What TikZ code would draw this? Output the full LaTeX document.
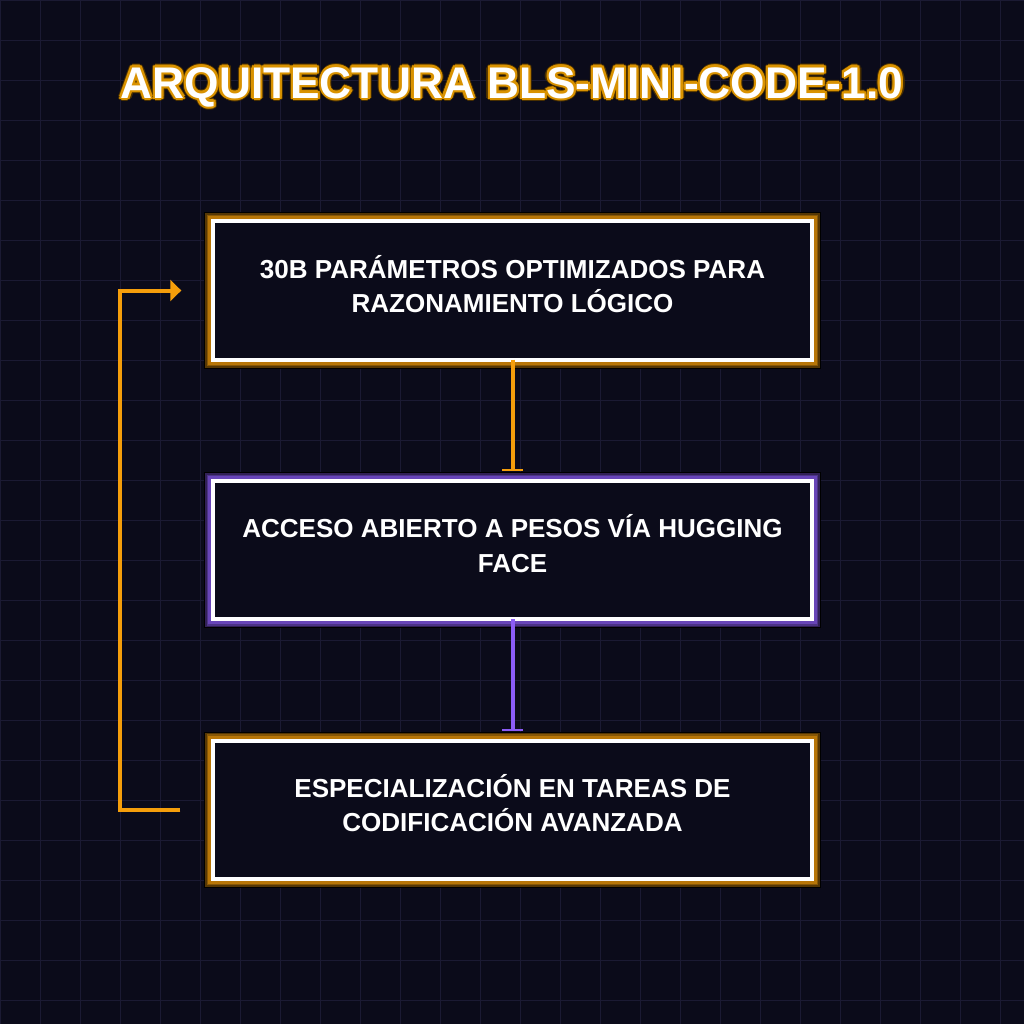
\documentclass[tikz,border=0pt]{standalone}
\usepackage{fontspec}
\setmainfont{Liberation Sans}
\usepackage{tikz}
\usetikzlibrary{arrows.meta,positioning}

\definecolor{bgc}{HTML}{0B0B1A}
\definecolor{gridc}{HTML}{1B1A33}
\definecolor{amb}{HTML}{F59E0B}
\definecolor{vio}{HTML}{8B5CF6}
\definecolor{ttlrim}{HTML}{D99200}
\definecolor{ttldark}{HTML}{4A3000}

\begin{document}
\begin{tikzpicture}[x=0.01cm, y=-0.01cm,
      blk/.style={draw=white, line width=0.04cm, fill=bgc, outer sep=0pt,
        minimum width=5.98cm, minimum height=1.38cm},
      lbl/.style={align=center, text=white, inner sep=0pt, yshift=0.065cm,
        font=\fontsize{7.4pt}{9.8pt}\selectfont\bfseries},
      glow/.style={preaction={draw=black, line width=0.18cm},
        preaction={draw=#1!35!black, line width=0.16cm},
        preaction={draw=#1!55!black, line width=0.13cm},
        preaction={draw=#1!75!black, line width=0.10cm}},
      ttl/.style={font=\fontsize{12.6pt}{15pt}\selectfont\bfseries, inner sep=0pt, anchor=base},
      flow/.style={line width=0.04cm, -{Bar[width=0.21cm, line width=0.02cm]},
        shorten >=0.1cm},
      >=Stealth]
    % background and grid
    \useasboundingbox (0,0) rectangle (1024,1024);
    \fill[bgc] (0,0) rectangle (1024,1024);
    \foreach \g in {0,40,...,1000} {
      \draw[gridc, line width=0.01cm] (\g,0) -- (\g,1024);
      \draw[gridc, line width=0.01cm] (0,\g) -- (1024,\g);
    }
    % title with outline
    \foreach \a in {0,30,...,330}
      \node[ttl, text=ttldark, shift={(\a:3.4)}] (ttlo\a) at (512,98) {ARQUITECTURA BLS-MINI-CODE-1.0};
    \foreach \a in {0,30,...,330}
      \node[ttl, text=ttlrim, shift={(\a:2.2)}] (ttli\a) at (512,98) {ARQUITECTURA BLS-MINI-CODE-1.0};
    \node[ttl, text=white] (title) at (512,98) {ARQUITECTURA BLS-MINI-CODE-1.0};
    % boxes
    \node[blk, glow=amb,
      label={[lbl, name=paramtxt]center:{30B PARÁMETROS OPTIMIZADOS PARA\\RAZONAMIENTO LÓGICO}}]
      (param) at (512.5,290.5) {};
    \node[blk, glow=vio, below=1.215cm of param,
      label={[lbl, name=pesostxt]center:{ACCESO ABIERTO A PESOS VÍA HUGGING\\FACE}}]
      (pesos) {};
    \node[blk, glow=amb, below=1.215cm of pesos,
      label={[lbl, name=codiftxt]center:{ESPECIALIZACIÓN EN TAREAS DE\\CODIFICACIÓN AVANZADA}}]
      (codif) {};
    % connectors
    \draw[flow, amb] (param) -- (pesos);
    \draw[flow, vio] (pesos) -- (codif);
    \draw[line width=0.04cm, amb, -{Triangle[length=0.11cm, width=0.21cm]},
      shorten <=0.33cm, shorten >=0.32cm]
      (codif.west) -- ++(-93,0) |- (param.west);
  \end{tikzpicture}
\end{document}
